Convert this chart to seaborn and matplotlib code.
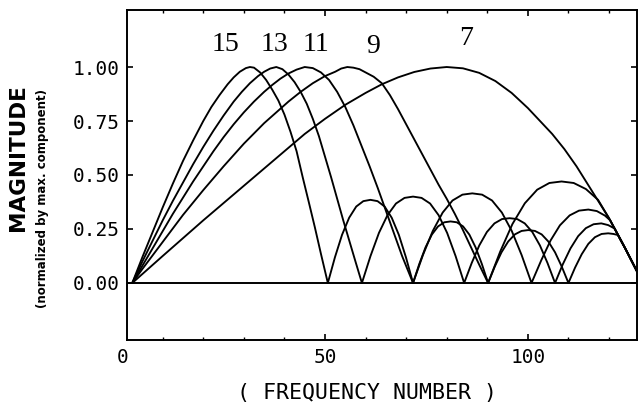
import matplotlib
matplotlib.use("Agg")
import matplotlib.pyplot as plt
import matplotlib.transforms as mtransforms
from matplotlib.ticker import MultipleLocator, FixedLocator
import pandas as pd
import seaborn as sns

# Magnitude responses for filter lengths 15, 13, 11, 9 and 7,
# each normalized by its maximum component.
freq_15 = [2.5, 5, 7.5, 10, 12.5, 15, 17.5, 20, 22, 24, 26, 27.5, 29, 30.5, 31.5, 32.5, 34, 35.5, 37, 38.5, 40,
           41.5, 43, 44.5, 46, 47.5, 49, 50.7,
           52.45, 54.2, 55.95, 57.7, 59.45, 61.2, 62.95, 64.7, 66.45, 68.2, 69.95, 71.7,
           73.24, 74.78, 76.33, 77.87, 79.41, 80.95, 82.49, 84.03, 85.58, 87.12, 88.66, 90.2,
           91.85, 93.5, 95.15, 96.8, 98.45, 100.1, 101.75, 103.4, 105.05, 106.7, 108.35, 110.0,
           111.63, 113.27, 114.9, 116.53, 118.17, 119.8, 121.1, 122.2, 124, 127]
mag_15 = [0, 0.12, 0.235, 0.35, 0.46, 0.565, 0.66, 0.75, 0.815, 0.87, 0.92, 0.952, 0.978, 0.995, 1.0, 0.997, 0.975, 0.94, 0.895, 0.845, 0.78,
          0.70, 0.61, 0.49, 0.375, 0.258, 0.135, 0,
          0.119, 0.223, 0.302, 0.354, 0.379, 0.385, 0.379, 0.354, 0.302, 0.223, 0.119, 0,
          0.088, 0.165, 0.224, 0.262, 0.281, 0.285, 0.281, 0.262, 0.224, 0.165, 0.088, 0,
          0.076, 0.142, 0.192, 0.225, 0.241, 0.245, 0.241, 0.225, 0.192, 0.142, 0.076, 0,
          0.071, 0.133, 0.181, 0.212, 0.227, 0.23, 0.227, 0.222, 0.16, 0.05]

freq_13 = [2.5, 5, 7.5, 10, 12.5, 15, 17.5, 20, 22.5, 25, 27.5, 29.5, 31.5, 33.5, 35, 36.5, 38, 39.5, 41, 42.5, 44,
           45.5, 47, 48.5, 50, 51.5, 53, 54.5, 56, 57.5, 59.1,
           61.2, 63.3, 65.4, 67.5, 69.6, 71.7, 73.8, 75.9, 78.0, 80.1, 82.2, 84.3,
           86.17, 88.03, 89.9, 91.77, 93.63, 95.5, 97.37, 99.23, 101.1, 102.97, 104.83, 106.7,
           108.6, 110.5, 112.4, 114.3, 116.2, 118.1, 119.8, 121.4, 124, 127]
mag_13 = [0, 0.10, 0.195, 0.29, 0.38, 0.465, 0.55, 0.63, 0.705, 0.775, 0.84, 0.885, 0.925, 0.958, 0.978, 0.993, 1.0, 0.99, 0.965, 0.93, 0.885,
          0.83, 0.76, 0.68, 0.585, 0.49, 0.39, 0.29, 0.195, 0.1, 0,
          0.124, 0.232, 0.314, 0.368, 0.394, 0.40, 0.394, 0.368, 0.314, 0.232, 0.124, 0,
          0.093, 0.174, 0.236, 0.276, 0.296, 0.30, 0.296, 0.276, 0.236, 0.174, 0.093, 0,
          0.086, 0.16, 0.217, 0.254, 0.272, 0.276, 0.268, 0.252, 0.16, 0.05]

freq_11 = [2.5, 5, 7.5, 10, 12.5, 15, 17.5, 20, 22.5, 25, 27.5, 30, 32.5, 35, 37, 39, 41, 43, 45, 47, 49, 51, 53,
           55, 57, 59, 61, 63, 65, 67, 69, 71.7,
           74.13, 76.57, 79.0, 81.43, 83.87, 86.3, 88.73, 91.17, 93.6, 96.03, 98.47, 100.9,
           103.3, 105.6, 107.9, 110.3, 112.6, 114.9, 117, 119, 120.3, 122, 124, 127]
mag_11 = [0, 0.08, 0.16, 0.24, 0.32, 0.395, 0.47, 0.54, 0.61, 0.675, 0.735, 0.79, 0.84, 0.885, 0.917, 0.946, 0.97, 0.988, 1.0, 0.995, 0.975, 0.94, 0.885,
          0.815, 0.73, 0.635, 0.54, 0.44, 0.335, 0.23, 0.125, 0,
          0.129, 0.241, 0.326, 0.382, 0.409, 0.415, 0.409, 0.382, 0.326, 0.241, 0.129, 0,
          0.105, 0.197, 0.267, 0.313, 0.335, 0.34, 0.333, 0.312, 0.29, 0.23, 0.16, 0.05]

freq_9 = [2.5, 5, 10, 15, 20, 25, 30, 35, 38, 41, 44, 47, 50, 52.5, 54, 55.5, 57, 58.5, 60, 62, 64, 66, 68, 70,
          72, 74, 76, 78, 80, 82, 84, 86, 88, 90.2,
          93.2, 96.2, 99.25, 102.3, 105.3, 108.3, 111.3, 114.3, 117.3, 120, 122, 124, 127]
mag_9 = [0, 0.065, 0.19, 0.315, 0.43, 0.54, 0.645, 0.74, 0.79, 0.84, 0.885, 0.925, 0.958, 0.978, 0.993, 1.0, 0.997, 0.99, 0.975, 0.955, 0.925, 0.87, 0.805, 0.735,
         0.665, 0.595, 0.525, 0.455, 0.39, 0.32, 0.245, 0.165, 0.085, 0,
         0.146, 0.273, 0.369, 0.432, 0.463, 0.47, 0.463, 0.435, 0.385, 0.30, 0.23, 0.16, 0.05]

freq_7 = [2.5, 10, 20, 30, 40, 45, 50, 55, 60, 64, 68, 72, 76, 80, 84, 88, 92, 96, 100, 103, 106, 109, 112, 115,
          117.5, 120, 122, 124, 127]
mag_7 = [0, 0.125, 0.29, 0.45, 0.61, 0.69, 0.76, 0.825, 0.88, 0.92, 0.952, 0.977, 0.993, 1.0, 0.994, 0.973, 0.935, 0.88, 0.81, 0.75, 0.69, 0.62, 0.54, 0.45,
         0.375, 0.30, 0.23, 0.16, 0.05]

curve_names = ["15", "13", "11", "9", "7"]
curve_freqs = [freq_15, freq_13, freq_11, freq_9, freq_7]
curve_mags = [mag_15, mag_13, mag_11, mag_9, mag_7]

# label anchor (frequency, magnitude) above each main lobe
label_pos = {"15": (25.4, 1.102), "13": (37.6, 1.102), "11": (47.8, 1.102),
             "9": (61.8, 1.097), "7": (84.7, 1.134)}

frames = []
for name, f, m in zip(curve_names, curve_freqs, curve_mags):
    frames.append(pd.DataFrame({"freq": f, "mag": m, "curve": name}))
df = pd.concat(frames, ignore_index=True)

sns.set_style("ticks")
plt.rcParams["font.family"] = ["DejaVu Sans Mono", "DejaVu Sans"]
for key in ("text.color", "axes.labelcolor", "xtick.color", "ytick.color", "axes.edgecolor"):
    plt.rcParams[key] = "black"

fig = plt.figure(figsize=(6.38, 4.08), dpi=100)
ax = fig.add_axes([127 / 638, 68 / 408, 510 / 638, 330 / 408])

sns.lineplot(data=df, x="freq", y="mag", hue="curve", units="curve", estimator=None,
             palette={n: "black" for n in curve_names}, legend=False,
             linewidth=1.35, ax=ax)

ax.axhline(0, color="black", linewidth=1.4, zorder=1)

ax.set_xlim(1.2, 126.9)
ax.set_ylim(-0.264, 1.264)

ax.xaxis.set_major_locator(FixedLocator([50, 100]))
ax.xaxis.set_minor_locator(MultipleLocator(10))
ax.yaxis.set_major_locator(FixedLocator([0, 0.25, 0.5, 0.75, 1.0]))
ax.set_yticklabels(["0.00", "0.25", "0.50", "0.75", "1.00"])

ax.tick_params(axis="both", which="major", direction="in", length=4, width=1.2,
               top=True, right=True, labelsize=14, pad=5.5, colors="black")
ax.tick_params(axis="x", which="minor", direction="in", length=2.5, width=1.0,
               top=True, bottom=True)
for s in ax.spines.values():
    s.set_linewidth(1.4)
    s.set_color("black")

# "0" sits just left of the frame corner
trans = mtransforms.blended_transform_factory(ax.transData, ax.transAxes)
ax.text(0, -0.024, "0", transform=trans, ha="center", va="top", fontsize=14,
        family="DejaVu Sans Mono", clip_on=False)

ax.set_xlabel("")
ax.set_ylabel("")
fig.text(367 / 638, 1 - 393 / 408, "( FREQUENCY NUMBER )", ha="center", va="center",
         fontsize=15.5, family="DejaVu Sans Mono")
fig.text(18 / 638, 1 - 158 / 408, "MAGNITUDE", rotation=90, ha="center", va="center",
         fontsize=15.5, family="DejaVu Sans", fontweight="bold")
fig.text(43 / 638, 1 - 199 / 408, "(normalized by max. component)", rotation=90,
         ha="center", va="center", fontsize=8.5, family="DejaVu Sans", fontweight="bold")

for name in curve_names:
    fx, fy = label_pos[name]
    ax.text(fx, fy, name, ha="center", va="center", fontsize=20,
            family="Liberation Serif")

fig.savefig("out.png", dpi=100)
